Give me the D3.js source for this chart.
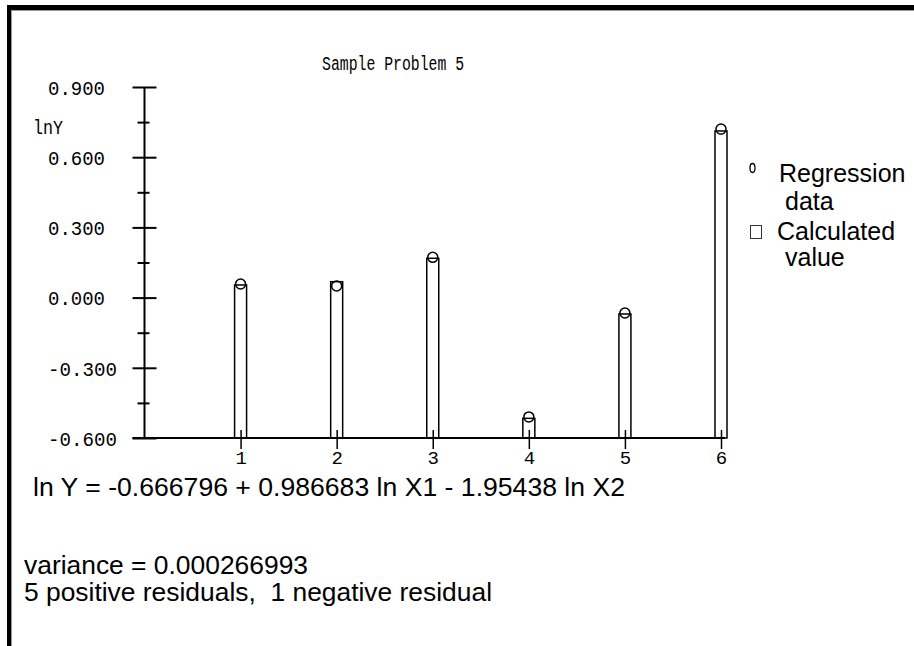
<!DOCTYPE html>
<html>
<head>
<meta charset="utf-8">
<script src="https://cdn.jsdelivr.net/npm/d3@7"></script>
<style>
  html, body { margin: 0; padding: 0; background: #fff; }
  svg { display: block; }
  .mono { font-family: "Liberation Mono", "DejaVu Sans Mono", monospace; fill: #000; }
  .sans { font-family: "Liberation Sans", Arial, sans-serif; fill: #000; }
</style>
</head>
<body>
<svg id="chart" width="914" height="646"></svg>
<script>
  // observation numbers on the x axis
  var observations = [1, 2, 3, 4, 5, 6];
  // lnY of the regression data (circles)
  var regressionData = [0.058, 0.050, 0.172, -0.510, -0.066, 0.720];
  // lnY calculated from the fitted equation (bars)
  var calculatedValue = [0.054, 0.068, 0.168, -0.516, -0.070, 0.712];
  var majorTicks = [-0.6, -0.3, 0, 0.3, 0.6, 0.9];
  var minorTicks = [-0.45, -0.15, 0.15, 0.45, 0.75];

  var svg = d3.select('#chart');

  // frame
  svg.append('line').attr('x1', 9).attr('y1', 5).attr('x2', 9).attr('y2', 646)
    .attr('stroke', '#000').attr('stroke-width', 4);
  svg.append('line').attr('x1', 7).attr('y1', 7.5).attr('x2', 914).attr('y2', 7.5)
    .attr('stroke', '#000').attr('stroke-width', 5);
  svg.append('line').attr('x1', 11.5).attr('y1', 10).attr('x2', 11.5).attr('y2', 646)
    .attr('stroke', '#999').attr('stroke-width', 1);
  svg.append('line').attr('x1', 11).attr('y1', 10.5).attr('x2', 914).attr('y2', 10.5)
    .attr('stroke', '#999').attr('stroke-width', 1);

  var x = d3.scaleLinear().domain([0, 6]).range([144.5, 721]);
  var y = d3.scaleLinear().domain([-0.6, 0.9]).range([438, 87]);

  // y axis, ticks stick out on both sides
  var yAxis = svg.append('g').attr('transform', 'translate(' + x(0) + ',0)')
    .call(d3.axisLeft(y).tickValues(majorTicks).tickFormat(d3.format('.3f')).tickSize(12));
  yAxis.select('.domain').remove();
  yAxis.selectAll('.tick line').attr('x1', -12).attr('x2', 12)
    .attr('stroke', '#000').attr('stroke-width', 2);
  yAxis.selectAll('.tick text')
    .attr('class', 'mono')
    .attr('x', 48 - x(0)).attr('dy', '0.36em')
    .attr('text-anchor', 'start')
    .style('font-size', '20px')
    .attr('textLength', function(d) { return d < 0 ? 69 : 57; })
    .attr('lengthAdjust', 'spacingAndGlyphs')
    .text(function(d) { return d3.format('.3f')(d).replace('\u2212', '-'); });

  var yMinor = svg.append('g').attr('transform', 'translate(' + x(0) + ',0)')
    .call(d3.axisLeft(y).tickValues(minorTicks).tickFormat('').tickSize(6));
  yMinor.select('.domain').remove();
  yMinor.selectAll('.tick line').attr('x1', -7).attr('x2', 5)
    .attr('stroke', '#000').attr('stroke-width', 2);

  svg.append('line')
    .attr('x1', x(0)).attr('x2', x(0)).attr('y1', y(0.9)).attr('y2', y(-0.6))
    .attr('stroke', '#000').attr('stroke-width', 2);

  // bars for calculated value
  svg.append('g').selectAll('rect')
    .data(observations)
    .join('rect')
    .attr('x', function(d) { return x(d) - 6; })
    .attr('width', 12)
    .attr('y', function(d, i) { return y(calculatedValue[i]); })
    .attr('height', function(d, i) { return y(-0.6) - y(calculatedValue[i]); })
    .attr('fill', '#fff')
    .attr('stroke', '#000')
    .attr('stroke-width', 1.5);

  // x axis
  svg.append('line')
    .attr('x1', x(0) - 12).attr('x2', x(6) + 4).attr('y1', y(-0.6)).attr('y2', y(-0.6))
    .attr('stroke', '#000').attr('stroke-width', 2);
  var xAxis = svg.append('g').attr('transform', 'translate(0,' + y(-0.6) + ')')
    .call(d3.axisBottom(x).tickValues(observations).tickFormat(d3.format('d')).tickSize(12));
  xAxis.select('.domain').remove();
  xAxis.selectAll('.tick line').attr('y1', -8).attr('y2', 11)
    .attr('stroke', '#000').attr('stroke-width', 1.5);
  xAxis.selectAll('.tick text')
    .attr('class', 'mono')
    .attr('y', 26).attr('dy', 0)
    .style('font-size', '19px');

  // circles for regression data
  svg.append('g').selectAll('circle')
    .data(observations)
    .join('circle')
    .attr('cx', function(d) { return x(d); })
    .attr('cy', function(d, i) { return y(regressionData[i]); })
    .attr('r', 5)
    .attr('fill', 'none')
    .attr('stroke', '#000')
    .attr('stroke-width', 1.5);

  // title and axis name
  svg.append('text').attr('class', 'mono')
    .attr('x', 322).attr('y', 70)
    .attr('textLength', 142).attr('lengthAdjust', 'spacingAndGlyphs')
    .style('font-size', '20px')
    .text('Sample Problem 5');
  svg.append('text').attr('class', 'mono')
    .attr('x', 33).attr('y', 134)
    .attr('textLength', 30).attr('lengthAdjust', 'spacingAndGlyphs')
    .style('font-size', '20px')
    .text('lnY');

  // legend
  var legend = svg.append('g');
  legend.append('ellipse').attr('cx', 752.5).attr('cy', 168).attr('rx', 2.5).attr('ry', 4.5)
    .attr('fill', 'none').attr('stroke', '#000').attr('stroke-width', 1.3);
  legend.append('rect').attr('x', 750.5).attr('y', 225.5).attr('width', 11).attr('height', 13)
    .attr('fill', 'none').attr('stroke', '#333').attr('stroke-width', 1);
  var legendLines = [
    { t: 'Regression', x: 779, y: 182 },
    { t: 'data', x: 785, y: 210 },
    { t: 'Calculated', x: 777, y: 240 },
    { t: 'value', x: 785, y: 266 }
  ];
  legend.selectAll('text.lg')
    .data(legendLines)
    .join('text')
    .attr('class', 'sans lg')
    .attr('x', function(d) { return d.x; })
    .attr('y', function(d) { return d.y; })
    .style('font-size', '25px')
    .text(function(d) { return d.t; });

  // notes below the chart
  var notes = [
    { t: 'ln Y = -0.666796 + 0.986683 ln X1 - 1.95438 ln X2', x: 33, y: 496, w: 592 },
    { t: 'variance = 0.000266993', x: 24, y: 574, w: 284 },
    { t: '5 positive residuals,  1 negative residual', x: 24, y: 601, w: 468 }
  ];
  svg.append('g').selectAll('text')
    .data(notes)
    .join('text')
    .attr('class', 'sans')
    .attr('x', function(d) { return d.x; })
    .attr('y', function(d) { return d.y; })
    .attr('textLength', function(d) { return d.w; })
    .attr('lengthAdjust', 'spacingAndGlyphs')
    .attr('xml:space', 'preserve')
    .style('white-space', 'pre')
    .style('font-size', '26px')
    .text(function(d) { return d.t; });
</script>
</body>
</html>
